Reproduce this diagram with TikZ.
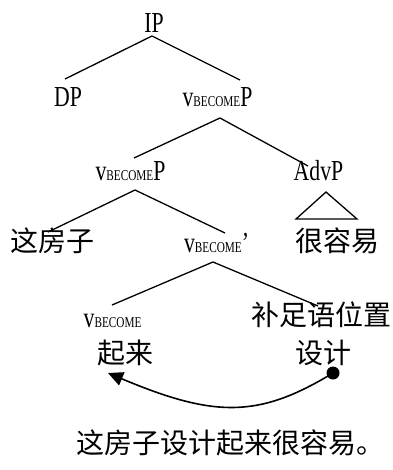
\documentclass[tikz,border=0pt]{standalone}
\usepackage{fontspec}
\usetikzlibrary{arrows.meta}
\newfontfamily\lat{Liberation Serif}[FakeStretch=0.75]
\newfontfamily\cjk{Noto Sans CJK SC}
\newcommand\vbec{v{\fontsize{15}{18}\selectfont BECOME}}
\begin{document}
\begin{tikzpicture}[x=1pt,y=1pt,
  lbl/.style={anchor=base, inner sep=0pt, font=\lat\fontsize{29}{34}\selectfont},
  zh/.style={anchor=base, inner sep=0pt, font=\cjk\fontsize{28}{32}\selectfont},
  branch/.style={line width=1.3pt},
  mv/.style={line width=1.6pt, -{Triangle[length=15pt,width=14pt]}}]
\useasboundingbox (0,0) rectangle (392,-470);
\node[lbl] (IP) at (154,-33) {IP};
\node[lbl] (DP) at (68,-107) {DP};
\node[lbl] (vP1) at (217.5,-107) {\vbec P};
\node[lbl] (vP2) at (130.5,-180) {\vbec P};
\node[lbl] (AdvP) at (318.5,-180) {AdvP};
\node[zh] (zfz) at (52.5,-251.6) {这房子};
\node[lbl] (vB1) at (216.5,-252) {\vbec ’};
\node[zh] (hry) at (337,-251.6) {很容易};
\node[lbl] (vB) at (112.5,-327) {\vbec};
\node[zh] (bzy) at (321.5,-325) {补足语位置};
\node[zh] (ql) at (125,-363) {起来};
\node[zh] (sj) at (323.5,-363) {设计};
\node[zh, anchor=base west] (sent) at (76.5,-453) {这房子设计起来很容易。};

\draw[branch] ([shift={(-2,-3)}]IP.base) -- ([shift={(-3,28)}]DP.base);
\draw[branch] ([shift={(-2,-3)}]IP.base) -- ([shift={(22.5,27)}]vP1.base);
\draw[branch] ([shift={(2.5,-11)}]vP1.base) -- ([shift={(3.5,22)}]vP2.base);
\draw[branch] ([shift={(2.5,-11)}]vP1.base) -- ([shift={(-10.5,14)}]AdvP.base);
\draw[branch] ([shift={(4.5,-10)}]vP2.base) -- ([shift={(-4.5,19.6)}]zfz.base);
\draw[branch] ([shift={(4.5,-10)}]vP2.base) -- ([shift={(8.5,19)}]vB1.base);
\draw[branch] ([shift={(-3.5,-10)}]vB1.base) -- ([shift={(-0.5,22)}]vB.base);
\draw[branch] ([shift={(-3.5,-10)}]vB1.base) -- ([shift={(-3.5,19)}]bzy.base);
\draw[branch, line join=miter] ([shift={(7.5,-12)}]AdvP.base) -- ([shift={(-41,32.6)}]hry.base) -- ([shift={(20,32.6)}]hry.base) -- cycle;

\coordinate (src) at ([shift={(9.5,-10)}]sj.base);
\coordinate (dst) at ([shift={(-17,-10)}]ql.base);
\draw[mv] (src) .. controls +(-74,-45) and +(107,-45) .. (dst);
\fill (src) circle (6.5pt);
\end{tikzpicture}
\end{document}
